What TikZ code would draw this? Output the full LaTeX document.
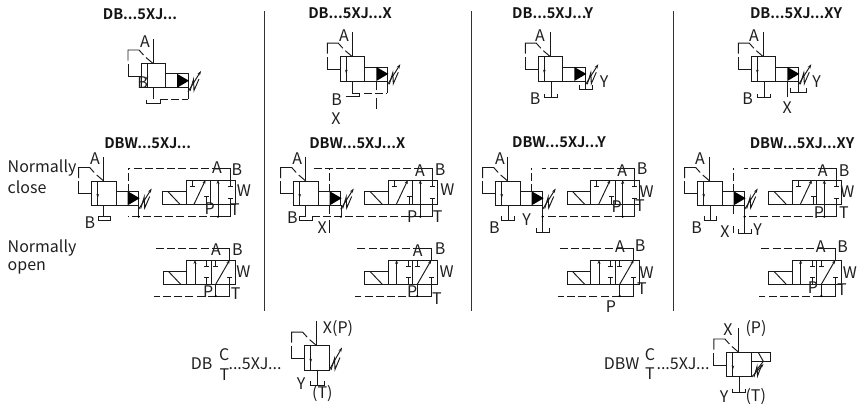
\documentclass[tikz,border=0pt]{standalone}
\usepackage{fontspec}
\setmainfont{Noto Sans CJK SC}[BoldFont={Noto Sans CJK SC Bold}]
\usetikzlibrary{arrows.meta}
\tikzset{
  x=1pt,y=-1pt,
  sym/.style={line width=0.95pt,draw=black!90,line join=miter},
  dash line/.style={sym,dash pattern=on 8pt off 3.2pt},
  tiparrow/.style={sym,-{Stealth[length=4pt,width=3pt]}},
  lbl/.style={inner sep=0pt,font=\fontsize{16}{16}\selectfont,text=black!88},
  ttl/.style={inner sep=0pt,font=\fontsize{14.6}{14.6}\selectfont\bfseries,text=black!92},
  divider/.style={line width=0.9pt,draw=black!80},
  dot/.style={circle,fill=black,inner sep=0pt,minimum size=2.4pt}
}
% main stage: body box with pilot feedback
\newcommand\MainBody[2]{%
\begin{scope}[shift={(#1,#2)}]
  \draw[sym] (0,0) rectangle (24.5,24.3);
  \draw[sym] (6,0) -- (6,24.3);
  \draw[sym,-{Stealth[length=4pt,width=2.6pt]}] (6,2) -- (6,17);
  \draw[sym] (12,-24.5) -- (12,0);
  \draw[sym] (0,12.5) -- (-13,12.5) -- (-13,0);
  \draw[sym] (-13,-3) -- (-13,-13.5) -- (-2,-13.5) -- (2.5,-8.5);
  \draw[sym] (5,-6) -- (12,0);
\end{scope}}
% pilot cone with spring
\newcommand\PilotHead[2]{%
\begin{scope}[shift={(#1,#2)}]
  \draw[sym] (24.5,10.3) -- (47,10.3) -- (47,24.3);
  \fill[black] (36,10.3) -- (36,24.3) -- (48,17.2) -- cycle;
  \draw[sym] (24.5,24.3) -- (47,24.3);
  \draw[sym] (49,27.5) -- (52.5,16) -- (53,27) -- (58,15.5);
  \draw[sym,-{Stealth[length=4.5pt,width=3pt]}] (47,28.2) -- (60,7.5);
\end{scope}}
% small tank symbol: x1 x2 y
\newcommand\Tank[3]{\draw[sym] (#1,#3-4) -- (#1,#3) -- (#2,#3) -- (#2,#3-4);}
% closed-position solenoid valve
\newcommand\ValveClosed[3]{%
\begin{scope}[shift={(#1,#2)}]
  \draw[sym] (0,0) rectangle (49,24.3);
  \draw[sym] (24.5,0) -- (24.5,24.3);
  \draw[sym] (0,11.7) -- (-23.5,11.7) -- (-23.5,24.3) -- (0,24.3);
  \draw[sym] (-18,11.7) -- (-6,24.3);
  \draw[sym] (6,0) -- (6,6) (3.5,6) -- (8.5,6);
  \draw[tiparrow] (8,24.3) -- (19.5,0);
  \draw[sym] (20.7,24.3) -- (20.7,16) (18.2,16) -- (23.2,16);
  \draw[tiparrow] (32,24.3) -- (32,0);
  \draw[sym] (44,0) -- (44,6) (41.5,6) -- (46.5,6);
  \draw[sym] (44,24.3) -- (44,18) (41.5,18) -- (46.5,18);
  \draw[sym] (32,24.3) -- (32,36.7) -- (44,36.7) -- (44,24.3);
  \draw[sym] (44,0) -- (44,-12) -- (34,-12);
  \draw[dash line] (34,-12) -- (#3,-12);
  \draw[dash line] (32,36.7) -- (#3,36.7);
  \node[dot] (vc) at (32,36.7) {};
\end{scope}}
% open-position solenoid valve
\newcommand\ValveOpen[2]{%
\begin{scope}[shift={(#1,#2)}]
  \draw[sym] (0,0) rectangle (49,24.3);
  \draw[sym] (24.5,0) -- (24.5,24.3);
  \draw[sym] (0,11.7) -- (-23.5,11.7) -- (-23.5,24.3) -- (0,24.3);
  \draw[sym] (-18,11.7) -- (-6,24.3);
  \draw[tiparrow] (8.3,24.3) -- (8.3,0);
  \draw[sym] (20,0) -- (20,6) (17.5,6) -- (22.5,6);
  \draw[sym] (20,24.3) -- (20,17) (17.5,17) -- (22.5,17);
  \draw[sym] (29,0) -- (29,6) (26.5,6) -- (31.5,6);
  \draw[tiparrow] (29,24.3) -- (43,0);
  \draw[sym] (43,24.3) -- (43,17) (40.5,17) -- (45.5,17);
  \draw[sym] (29,24.3) -- (29,36) -- (43,36) -- (43,24.3);
  \draw[sym] (43,0) -- (43,-12) -- (33,-12);
  \draw[dash line] (33,-12) -- (-33,-12);
  \draw[dash line] (29,36) -- (-33,36);
  \node[dot] (vo) at (29,36) {};
\end{scope}}
\newcommand\Lb[3]{\node[lbl] at (#1,#2) {#3};}
\begin{document}
\begin{tikzpicture}
\useasboundingbox (0,0) rectangle (861,405);
% dividers
\draw[divider] (264,11) -- (264,311);
\draw[divider] (471,11) -- (471,311);
\draw[divider] (673,11) -- (673,311);
% titles
\node[ttl] (t1) at (140,14) {DB...5XJ...};
\node[ttl] (t2) at (350,13) {DB...5XJ...X};
\node[ttl] (t3) at (552.7,13) {DB...5XJ...Y};
\node[ttl] (t4) at (796,13) {DB...5XJ...XY};
\node[ttl] (t5) at (147.7,143) {DBW...5XJ...};
\node[ttl] (t6) at (357.3,143) {DBW...5XJ...X};
\node[ttl] (t7) at (559,142) {DBW...5XJ...Y};
\node[ttl] (t8) at (802,143) {DBW...5XJ...XY};
\node[lbl,anchor=west] (nc1) at (7.5,168) {Normally};
\node[lbl,anchor=west] (nc2) at (7.5,187.5) {close};
\node[lbl,anchor=west] (no1) at (7.5,248) {Normally};
\node[lbl,anchor=west] (no2) at (7.5,268) {open};
% ---- top row
\MainBody{141}{63.5}\PilotHead{141}{63.5}
\draw[sym] (153,87.8) -- (153,99);
\Tank{146.7}{160}{103.7}
\draw[dash line] (160,99) -- (188,99);
\draw[sym] (188,87.8) -- (188,99);
\Lb{145}{41.7}{A}\Lb{142.7}{83}{B}

\MainBody{340.3}{56.7}\PilotHead{340.3}{56.7}
\draw[sym] (352.7,81) -- (352.7,93) -- (359,93);
\draw[sym] (359,93) -- (359,96.7) -- (346,96.7);
\draw[dash line] (364,93) -- (387.3,93);
\draw[sym] (387.3,81) -- (387.3,93);
\draw[sym] (376.3,81) -- (376.3,90) (376.3,98) -- (376.3,109);
\Lb{344}{36}{A}\Lb{336.7}{100}{B}\Lb{336}{119}{X}

\MainBody{538.3}{56.7}\PilotHead{538.3}{56.7}
\draw[sym] (551,81) -- (551,97.7);
\Tank{544}{557.7}{97.7}
\draw[sym] (585.3,81) -- (585.3,89.3);
\Tank{579}{592.7}{89.3}
\Lb{540}{36}{A}\Lb{535}{99}{B}\Lb{604}{81.7}{Y}

\MainBody{751.3}{56.7}\PilotHead{751.3}{56.7}
\draw[sym] (764,81) -- (764,97.7);
\Tank{757}{770.7}{97.7}
\draw[sym] (787.3,81) -- (787.3,97);
\draw[sym] (798.3,81) -- (798.3,92);
\Tank{790.7}{806}{92}
\Lb{754}{36}{A}\Lb{747.7}{99}{B}\Lb{787.3}{108}{X}\Lb{816.7}{81.7}{Y}
% ---- DBW row, column 1
\MainBody{91.7}{181}\PilotHead{91.7}{181}
\ValveClosed{186}{180}{-58}
\draw[sym] (103.8,205.3) -- (103.8,216.7);
\draw[sym] (98.3,216.7) -- (98.3,220.5) -- (110.6,220.5) -- (110.6,216.7);
\draw[sym] (98.3,216.7) -- (110.6,216.7);
\draw[sym] (138.7,205.3) -- (138.7,216.7);
\node[dot] (d1) at (138.7,216.7) {};
\draw[dash line] (128,192) -- (128,168);
\Lb{95}{159}{A}\Lb{90}{223}{B}
\Lb{217}{168}{A}\Lb{237}{170}{B}\Lb{244}{191}{W}\Lb{209.7}{209}{P}\Lb{235}{210}{T}
\ValveOpen{186.7}{260}
\Lb{216}{250}{A}\Lb{237.3}{250}{B}\Lb{243.3}{272}{W}\Lb{208.3}{292}{P}\Lb{235.7}{294}{T}
% column 2
\MainBody{293.7}{181}\PilotHead{293.7}{181}
\ValveClosed{388.3}{180}{-76}
\draw[sym] (305.7,205.3) -- (305.7,216.7) -- (299.3,216.7) -- (299.3,220.5) -- (312.7,220.5) -- (312.7,216.7);
\draw[sym] (341,205.3) -- (341,216.7);
\node[dot] (d2) at (341,216.7) {};
\draw[dash line] (329,192) -- (329,168);
\draw[sym] (329,205.3) -- (329,214) (329,220) -- (329,233);
\Lb{297.3}{159}{A}\Lb{292.3}{218}{B}\Lb{322.3}{228}{X}
\Lb{420}{170.7}{A}\Lb{440}{170}{B}\Lb{447.3}{190}{W}\Lb{412.3}{217}{P}\Lb{437.7}{217}{T}
\ValveOpen{388.3}{260}
\Lb{417.7}{250.7}{A}\Lb{440}{249}{B}\Lb{446.7}{272}{W}\Lb{412.3}{292}{P}\Lb{437}{299}{T}
% column 3
\MainBody{495.7}{181}\PilotHead{495.7}{181}
\ValveClosed{590.7}{180}{-49}
\draw[sym] (508,205.3) -- (508,220);
\Tank{501.7}{514.3}{220}
\draw[sym] (542.5,205.3) -- (542.5,232);
\Tank{536.7}{549.7}{232}
\node[dot] (d3) at (542.5,216.7) {};
\draw[dash line] (531.7,192) -- (531.7,168);
\Lb{500}{159}{A}\Lb{494.3}{228}{B}\Lb{526.7}{220}{Y}
\Lb{622.3}{171}{A}\Lb{642}{168.3}{B}\Lb{646.7}{192}{W}\Lb{616.7}{206.7}{P}\Lb{640}{206}{T}
\ValveOpen{590.7}{260}
\Lb{620}{247}{A}\Lb{640}{246}{B}\Lb{646.7}{273}{W}\Lb{611}{306.7}{P}\Lb{642}{289}{T}
% column 4
\MainBody{697.7}{181}\PilotHead{697.7}{181}
\ValveClosed{792.3}{180}{-48}
\draw[sym] (710,205.3) -- (710,220);
\Tank{704.3}{716.7}{220}
\draw[sym] (744.5,205.3) -- (744.5,233);
\Tank{738.3}{751.7}{233}
\node[dot] (d4) at (744.5,216.7) {};
\draw[dash line] (733.3,192) -- (733.3,168);
\draw[sym] (733.3,205.3) -- (733.3,214) (733.3,226) -- (733.3,233);
\Lb{700}{159}{A}\Lb{696.7}{228}{B}\Lb{725}{232}{X}\Lb{757.7}{230}{Y}
\Lb{822.7}{171}{A}\Lb{844}{171}{B}\Lb{847.3}{192}{W}\Lb{819}{212.3}{P}\Lb{844}{213}{T}
\ValveOpen{792.3}{260}
\Lb{820.7}{247}{A}\Lb{842.7}{247}{B}\Lb{850}{273}{W}\Lb{813}{288}{P}\Lb{842}{290}{T}
% ---- bottom left
\MainBody{304.7}{345.7}
\draw[sym] (331,370) -- (334.5,358.5) -- (335,369.5) -- (340,357.5);
\draw[sym,-{Stealth[length=4.5pt,width=3pt]}] (329.2,370) -- (342,347.5);
\draw[sym] (317.3,370) -- (317.3,385);
\Tank{310.7}{324.3}{385}
\Lb{201.7}{364}{DB}\Lb{224.3}{355}{C}\Lb{224.3}{375}{T}\Lb{255}{364}{...5XJ...}
\Lb{338}{329}{X(P)}\Lb{301}{384}{Y}\Lb{322.3}{394}{(T)}
% ---- bottom right
\MainBody{726.9}{352.5}
\draw[sym] (751.4,352.5) -- (770.7,352.5) -- (770.7,361.3) -- (751.4,361.3);
\draw[sym] (758.3,352.5) -- (763.3,361.3) -- (756.7,370);
\draw[sym] (754,377) -- (757,366.5) -- (757.5,376) -- (761.5,365.5);
\draw[sym,-{Stealth[length=4.5pt,width=3pt]}] (751.7,377) -- (763.5,364);
\draw[sym] (739,376.8) -- (739,392.7);
\Tank{732.7}{745.7}{392.7}
\Lb{621.7}{364}{DBW}\Lb{650}{355}{C}\Lb{650}{374}{T}\Lb{683}{364}{...5XJ...}
\Lb{728}{330}{X}\Lb{756}{329}{(P)}\Lb{724}{396.5}{Y}\Lb{755.7}{397}{(T)}
\end{tikzpicture}
\end{document}
